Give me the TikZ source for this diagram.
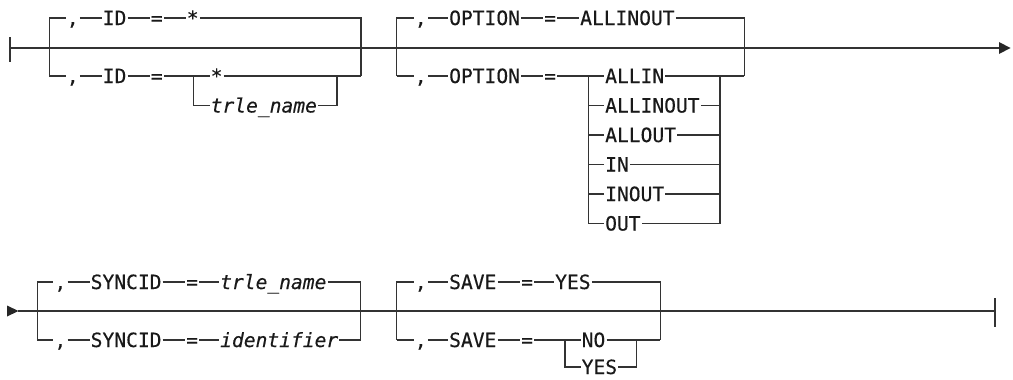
\documentclass[tikz,border=0pt]{standalone}
\usepackage{fontspec}
\newfontfamily\rr[FakeBold=0.35]{DejaVu Sans Mono}
\begin{document}
\begin{tikzpicture}[x=1pt,y=-1pt,
  tok/.style={anchor=west, inner xsep=1pt, inner ysep=0pt, text height=14pt, text depth=0pt,
    font=\rr\fontsize{19.6}{20}\selectfont, text=black!90},
  var/.style={tok, font=\rr\itshape\fontsize{19.6}{20}\selectfont},
  rail/.style={line width=1.2pt, draw=black!80, line join=miter},
  tip/.style={fill=black!85}]
\useasboundingbox (0,0) rectangle (1013,380);

% ================= ROW 1 =================
\coordinate (r1s) at (10,48);
\coordinate (r1e) at (999,48);
\draw[rail] (10,37) -- (10,62);
\draw[rail] (r1s) -- (r1e);
\fill[tip] (999,42) -- (1010.5,48) -- (999,54) -- cycle;

% ---- group 1 : ID ----
\coordinate (g1lu) at (49.3,18);
\coordinate (g1ll) at (49.3,76);
\coordinate (g1ru) at (361,18);
\coordinate (g1rl) at (361,76);
\node[tok] (c1)  at (65.6,18) {,};
\node[tok] (id1) at (101.6,18) {ID};
\node[tok] (eq1) at (149.6,18) {=};
\node[tok] (st1) at (185.6,18) {*};
\draw[rail] (g1ll) -- (g1lu) -- (c1.west);
\draw[rail] (c1.east) -- (id1.west);
\draw[rail] (id1.east) -- (eq1.west);
\draw[rail] (eq1.east) -- (st1.west);
\draw[rail] (st1.east) -- (g1ru) -- (g1rl);

\node[tok] (c2)  at (65.6,76) {,};
\node[tok] (id2) at (101.6,76) {ID};
\node[tok] (eq2) at (149.6,76) {=};
\coordinate (s1lt) at (193.3,76);
\coordinate (s1lb) at (193.3,105.5);
\coordinate (s1rt) at (337,76);
\coordinate (s1rb) at (337,105.5);
\node[tok] (st2) at (209.5,76) {*};
\node[var] (tn1) at (209.5,105.5) {trle\_name};
\draw[rail] (g1ll) -- (c2.west);
\draw[rail] (c2.east) -- (id2.west);
\draw[rail] (id2.east) -- (eq2.west);
\draw[rail] (eq2.east) -- (s1lt) -- (st2.west);
\draw[rail] (s1lt) -- (s1lb) -- (tn1.west);
\draw[rail] (st2.east) -- (s1rt) -- (g1rl);
\draw[rail] (tn1.east) -- (s1rb) -- (s1rt);

% ---- group 2 : OPTION ----
\coordinate (g2lu) at (396.7,18);
\coordinate (g2ll) at (396.7,76);
\coordinate (g2ru) at (744.3,18);
\coordinate (g2rl) at (744.3,76);
\node[tok] (c3)  at (413.6,18) {,};
\node[tok] (op1) at (448,18) {OPTION};
\node[tok] (eq3) at (543,18) {=};
\node[tok] (ai1) at (579,18) {ALLINOUT};
\draw[rail] (g2ll) -- (g2lu) -- (c3.west);
\draw[rail] (c3.east) -- (op1.west);
\draw[rail] (op1.east) -- (eq3.west);
\draw[rail] (eq3.east) -- (ai1.west);
\draw[rail] (ai1.east) -- (g2ru) -- (g2rl);

\node[tok] (c4)  at (413.6,76) {,};
\node[tok] (op2) at (448,76) {OPTION};
\node[tok] (eq4) at (543,76) {=};
\coordinate (s2lt) at (588.7,76);
\coordinate (s2lb) at (588.7,223.5);
\coordinate (s2rt) at (720,76);
\coordinate (s2rb) at (720,223.5);
\node[tok] (o1) at (604,76)    {ALLIN};
\node[tok] (o2) at (604,105.5) {ALLINOUT};
\node[tok] (o3) at (604,135)   {ALLOUT};
\node[tok] (o4) at (604,164.5) {IN};
\node[tok] (o5) at (604,194)   {INOUT};
\node[tok] (o6) at (604,223.5) {OUT};
\draw[rail] (g2ll) -- (c4.west);
\draw[rail] (c4.east) -- (op2.west);
\draw[rail] (op2.east) -- (eq4.west);
\draw[rail] (eq4.east) -- (s2lt) -- (o1.west);
\draw[rail] (s2lt) -- (s2lb) -- (o6.west);
\foreach \n in {o2,o3,o4,o5} \draw[rail] (\n.west) -- (\n.west -| s2lt);
\draw[rail] (o1.east) -- (s2rt) -- (g2rl);
\draw[rail] (s2rt) -- (s2rb) -- (o6.east);
\foreach \n in {o2,o3,o4,o5} \draw[rail] (\n.east) -- (\n.east -| s2rt);

% ================= ROW 2 =================
\coordinate (r2s) at (18,311);
\coordinate (r2e) at (995,311);
\fill[tip] (7,305.5) -- (18.5,311) -- (7,316.5) -- cycle;
\draw[rail] (r2s) -- (r2e);
\draw[rail] (995,298) -- (995,327);

% ---- group 3 : SYNCID ----
\coordinate (g3lu) at (37.3,282);
\coordinate (g3ll) at (37.3,340);
\coordinate (g3ru) at (360.7,282);
\coordinate (g3rl) at (360.7,340);
\node[tok] (c5)  at (53.3,282) {,};
\node[tok] (sy1) at (89.5,282) {SYNCID};
\node[tok] (eq5) at (185,282) {=};
\node[var] (tn2) at (219,282) {trle\_name};
\draw[rail] (g3ll) -- (g3lu) -- (c5.west);
\draw[rail] (c5.east) -- (sy1.west);
\draw[rail] (sy1.east) -- (eq5.west);
\draw[rail] (eq5.east) -- (tn2.west);
\draw[rail] (tn2.east) -- (g3ru) -- (g3rl);

\node[tok] (c6)  at (53.3,340) {,};
\node[tok] (sy2) at (89.5,340) {SYNCID};
\node[tok] (eq6) at (185,340) {=};
\node[var] (idf) at (219,340) {identifier};
\draw[rail] (g3ll) -- (c6.west);
\draw[rail] (c6.east) -- (sy2.west);
\draw[rail] (sy2.east) -- (eq6.west);
\draw[rail] (eq6.east) -- (idf.west);
\draw[rail] (idf.east) -- (g3rl);

% ---- group 4 : SAVE ----
\coordinate (g4lu) at (396.7,282);
\coordinate (g4ll) at (396.7,340);
\coordinate (g4ru) at (660.3,282);
\coordinate (g4rl) at (660.3,340);
\node[tok] (c7)  at (413.6,282) {,};
\node[tok] (sv1) at (448,282) {SAVE};
\node[tok] (eq7) at (520,282) {=};
\node[tok] (ys1) at (554,282) {YES};
\draw[rail] (g4ll) -- (g4lu) -- (c7.west);
\draw[rail] (c7.east) -- (sv1.west);
\draw[rail] (sv1.east) -- (eq7.west);
\draw[rail] (eq7.east) -- (ys1.west);
\draw[rail] (ys1.east) -- (g4ru) -- (g4rl);

\node[tok] (c8)  at (413.6,340) {,};
\node[tok] (sv2) at (448,340) {SAVE};
\node[tok] (eq8) at (520,340) {=};
\coordinate (s4lt) at (565,340);
\coordinate (s4lb) at (565,367);
\coordinate (s4rt) at (636.7,340);
\coordinate (s4rb) at (636.7,367);
\node[tok] (no)  at (580.5,340) {NO};
\node[tok] (ys2) at (580.5,367) {YES};
\draw[rail] (g4ll) -- (c8.west);
\draw[rail] (c8.east) -- (sv2.west);
\draw[rail] (sv2.east) -- (eq8.west);
\draw[rail] (eq8.east) -- (s4lt) -- (no.west);
\draw[rail] (s4lt) -- (s4lb) -- (ys2.west);
\draw[rail] (no.east) -- (s4rt) -- (g4rl);
\draw[rail] (ys2.east) -- (s4rb) -- (s4rt);
\end{tikzpicture}
\end{document}
